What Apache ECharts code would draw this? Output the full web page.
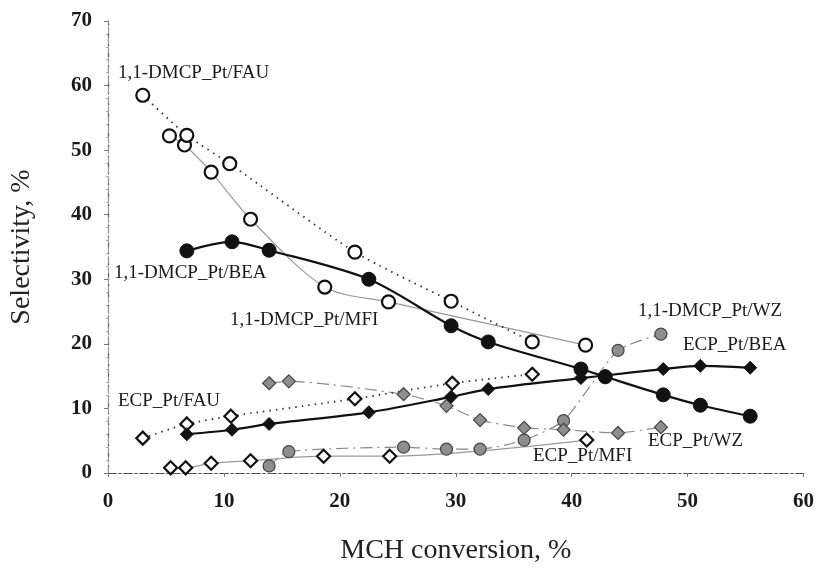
<!DOCTYPE html>
<html>
<head>
<meta charset="utf-8">
<script src="https://cdn.jsdelivr.net/npm/echarts@6/dist/echarts.min.js"></script>
<style>
html,body{margin:0;padding:0;background:#fff;}
#c{width:817px;height:574px;}
</style>
</head>
<body>
<div id="c"></div>
<script>
// ---- data ----
const xTicks = [0, 10, 20, 30, 40, 50, 60];
const yTicks = [0, 10, 20, 30, 40, 50, 60, 70];

const fauDmcpX = [3.0, 6.8, 10.5, 21.3, 29.6, 36.6];
const fauDmcpY = [58.5, 52.3, 47.9, 34.2, 26.6, 20.3];
const fauEcpX = [3.0, 6.8, 10.6, 21.3, 29.7, 36.6];
const fauEcpY = [5.4, 7.6, 8.8, 11.5, 13.9, 15.3];

const mfiDmcpX = [5.3, 6.6, 8.9, 12.3, 18.7, 24.2, 41.2];
const mfiDmcpY = [52.2, 50.8, 46.6, 39.3, 28.8, 26.5, 19.8];
const mfiEcpX = [5.4, 6.7, 8.9, 12.3, 18.6, 24.3, 41.3];
const mfiEcpY = [0.8, 0.8, 1.5, 1.9, 2.6, 2.6, 5.1];

const beaX = [6.8, 10.7, 13.9, 22.5, 29.6, 32.8, 40.8, 42.9, 47.9, 51.1, 55.4];
const beaDmcpY = [34.4, 35.8, 34.5, 30.0, 22.8, 20.3, 16.1, 14.9, 12.1, 10.5, 8.8];
const beaEcpY = [6.0, 6.7, 7.6, 9.4, 11.8, 13.0, 14.7, 15.1, 16.1, 16.6, 16.3];

const wzX = [13.9, 15.6, 25.5, 29.2, 32.1, 35.9, 39.3, 44.0, 47.7];
const wzDmcpY = [1.1, 3.3, 4.0, 3.7, 3.7, 5.1, 8.1, 19.0, 21.5];
const wzEcpY = [13.9, 14.2, 12.2, 10.4, 8.2, 7.0, 6.7, 6.2, 7.1];

const labels = [
  {text: '1,1-DMCP_Pt/FAU', x: 118, y: 75},
  {text: '1,1-DMCP_Pt/BEA', x: 114, y: 275},
  {text: '1,1-DMCP_Pt/MFI', x: 230, y: 322},
  {text: '1,1-DMCP_Pt/WZ', x: 638, y: 313},
  {text: 'ECP_Pt/BEA', x: 683, y: 347},
  {text: 'ECP_Pt/FAU', x: 118, y: 403},
  {text: 'ECP_Pt/MFI', x: 533, y: 458},
  {text: 'ECP_Pt/WZ', x: 648, y: 443}
];

// ---- helpers ----
const zip = (xs, ys) => xs.map((x, i) => [x, ys[i]]);
const serif = '"Liberation Serif", "DejaVu Serif", serif';

function mkSeries(name, xs, ys, opt) {
  return Object.assign({
    name: name,
    type: 'line',
    data: zip(xs, ys),
    smooth: 0.3,
    z: 2
  }, opt);
}

const openCircle = {symbol: 'circle', symbolSize: 13, itemStyle: {color: '#fff', borderColor: '#111', borderWidth: 2.2}};
const openDiamond = {symbol: 'diamond', symbolSize: [13, 13], itemStyle: {color: '#fff', borderColor: '#111', borderWidth: 2.2}};
const blackCircle = {symbol: 'circle', symbolSize: 14, itemStyle: {color: '#111', borderColor: '#111', borderWidth: 1}};
const blackDiamond = {symbol: 'diamond', symbolSize: [13, 13], itemStyle: {color: '#111', borderColor: '#111', borderWidth: 1}};
const grayCircle = {symbol: 'circle', symbolSize: 12, itemStyle: {color: '#8e8e8e', borderColor: '#444', borderWidth: 1.2}};
const grayDiamond = {symbol: 'diamond', symbolSize: [13, 13], itemStyle: {color: '#8e8e8e', borderColor: '#444', borderWidth: 1.2}};

const wzLine = {lineStyle: {color: '#888', width: 1.2, type: [12, 5, 2, 5]}, smooth: 0.2};
const mfiLine = {lineStyle: {color: '#999', width: 1.2, type: 'solid'}};
const fauLine = {lineStyle: {color: '#333', width: 1.8, type: [1.5, 5]}, smooth: 0.2};
const beaLine = {lineStyle: {color: '#111', width: 2.2, type: 'solid'}};

const series = [
  mkSeries('1,1-DMCP_Pt/WZ', wzX, wzDmcpY, Object.assign({}, grayCircle, wzLine)),
  mkSeries('ECP_Pt/WZ', wzX, wzEcpY, Object.assign({}, grayDiamond, wzLine)),
  mkSeries('1,1-DMCP_Pt/MFI', mfiDmcpX, mfiDmcpY, Object.assign({}, openCircle, mfiLine)),
  mkSeries('ECP_Pt/MFI', mfiEcpX, mfiEcpY, Object.assign({}, openDiamond, mfiLine)),
  mkSeries('1,1-DMCP_Pt/FAU', fauDmcpX, fauDmcpY, Object.assign({}, openCircle, fauLine)),
  mkSeries('ECP_Pt/FAU', fauEcpX, fauEcpY, Object.assign({}, openDiamond, fauLine)),
  mkSeries('ECP_Pt/BEA', beaX, beaEcpY, Object.assign({}, blackDiamond, beaLine)),
  mkSeries('1,1-DMCP_Pt/BEA', beaX, beaDmcpY, Object.assign({}, blackCircle, beaLine))
];
series.forEach(s => { s.showSymbol = true; s.animation = false; s.emphasis = {disabled: true}; });

const axisLineStyle = {color: '#555', width: 1.2, type: [8, 3, 2, 3]};

const chart = echarts.init(document.getElementById('c'), null, {renderer: 'canvas'});
chart.setOption({
  backgroundColor: '#fff',
  animation: false,
  grid: {left: 107, right: 10, top: 21, bottom: 101, containLabel: false},
  xAxis: [{
    type: 'value', min: 0, max: 60, interval: 10,
    name: 'MCH conversion, %', nameLocation: 'middle', nameGap: 64,
    nameTextStyle: {fontFamily: serif, fontSize: 28, color: '#222'},
    axisLine: {show: true, lineStyle: axisLineStyle},
    axisTick: {show: true, length: 4, lineStyle: {color: '#777'}},
    axisLabel: {fontFamily: serif, fontSize: 21, fontWeight: 'bold', color: '#1a1a1a', margin: 18,
      formatter: v => xTicks.includes(v) ? String(v) : ''},
    splitLine: {show: false}
  }, {
    type: 'value', min: 0, max: 60, position: 'top',
    axisLine: {show: true, lineStyle: axisLineStyle},
    axisTick: {show: false}, axisLabel: {show: false}, splitLine: {show: false}
  }],
  yAxis: [{
    type: 'value', min: 0, max: 70, interval: 10,
    name: 'Selectivity, %', nameLocation: 'middle', nameGap: 72, nameRotate: 90,
    nameTextStyle: {fontFamily: serif, fontSize: 28, color: '#222'},
    axisLine: {show: true, lineStyle: axisLineStyle},
    axisTick: {show: true, length: 4, lineStyle: {color: '#777'}},
    minorTick: {show: true, splitNumber: 5, length: 2, lineStyle: {color: '#aaa'}},
    axisLabel: {fontFamily: serif, fontSize: 21, fontWeight: 'bold', color: '#1a1a1a', margin: 16,
      formatter: v => yTicks.includes(v) ? String(v) : ''},
    splitLine: {show: false}
  }, {
    type: 'value', min: 0, max: 70, position: 'right',
    axisLine: {show: true, lineStyle: {color: '#999', width: 1, type: [6, 4]}},
    axisTick: {show: false}, axisLabel: {show: false}, splitLine: {show: false}
  }],
  series: series,
  graphic: labels.map(l => ({
    type: 'text', left: l.x, top: l.y - 11, z: 10,
    style: {text: l.text, fontFamily: serif, fontSize: 19, fill: '#1a1a1a'}
  }))
});
</script>
</body>
</html>
